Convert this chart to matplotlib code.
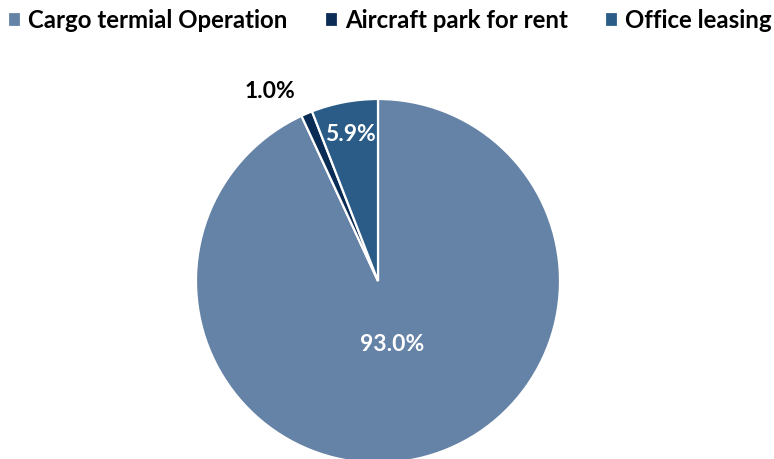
import numpy as np
import matplotlib.pyplot as plt

# Revenue split by business line
categories = ["Cargo termial Operation", "Aircraft park for rent", "Office leasing"]
shares = [93.0, 1.0, 5.9]
colors = ["#6582A7", "#0B2D55", "#2A5C87"]
label_colors = ["white", "black", "white"]
# label placement per slice: (distance from centre in radii, angle nudge in degrees)
label_place = [(0.36, 0.0), (1.20, 6.5), (0.82, 0.0)]

plt.rcParams['font.family'] = ['Lato', 'DejaVu Sans']

fig = plt.figure(figsize=(7.74, 4.59), dpi=100)

# pie axes: centre (378, 281) px, radius 182 px
cx, cy, r = 378, 281, 182
W, H = 774, 459
ax = fig.add_axes([(cx - r) / W, (H - cy - r) / H, 2 * r / W, 2 * r / H])

wedges, _ = ax.pie(shares, colors=colors, startangle=90, counterclock=False,
                   wedgeprops=dict(edgecolor="white", linewidth=1.6))
ax.set_xlim(-1, 1)
ax.set_ylim(-1, 1)
ax.set_aspect('equal')
ax.axis('off')

for w, val, col, (dist, nudge) in zip(wedges, shares, label_colors, label_place):
    mid = np.deg2rad((w.theta1 + w.theta2) / 2 + nudge)
    ax.text(dist * np.cos(mid), dist * np.sin(mid), f"{val:.1f}%",
            ha='center', va='center', color=col, fontsize=16.5, fontweight='bold')

fig.legend(wedges, categories, loc='upper left', bbox_to_anchor=(8 / W, 1 - 9 / H),
           ncol=3, frameon=False,
           prop={'weight': 'bold', 'size': 17.3},
           handlelength=0.55, handleheight=0.55, handletextpad=0.3,
           columnspacing=1.53, borderpad=0, borderaxespad=0)

fig.savefig("out.png", dpi=100)
